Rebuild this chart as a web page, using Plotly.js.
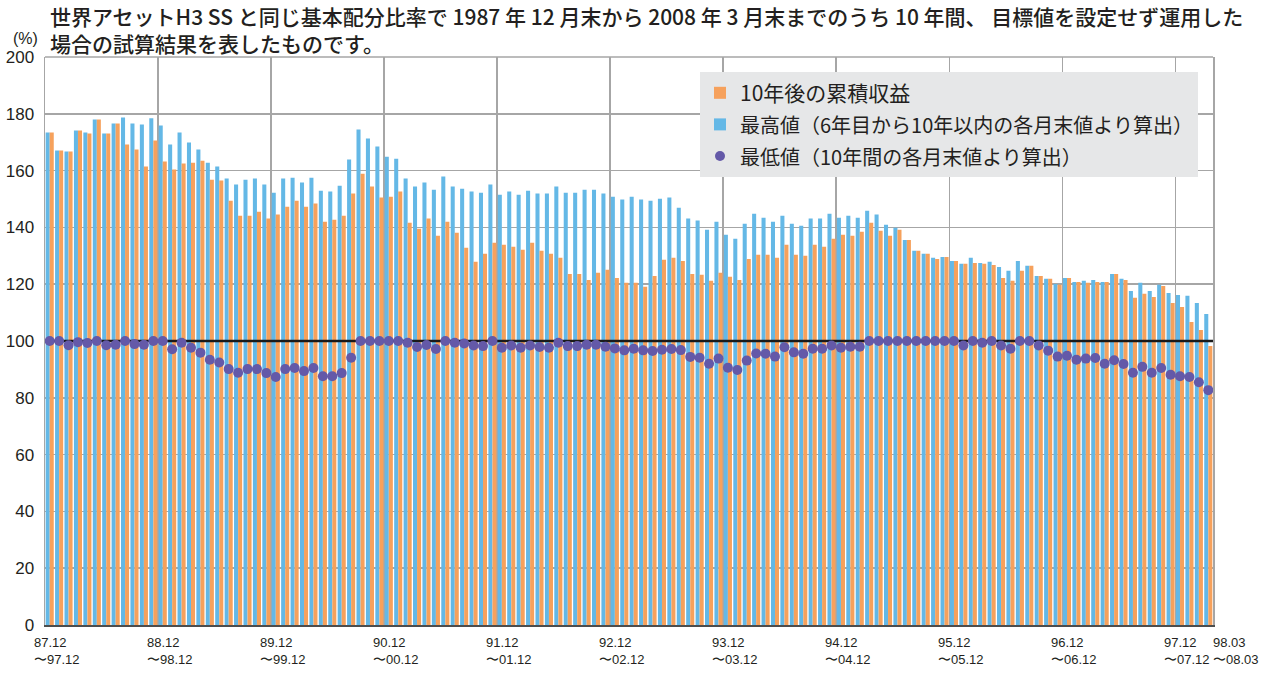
<!DOCTYPE html>
<html>
<head>
<meta charset="utf-8">
<script src="https://cdn.plot.ly/plotly-3.0.1.min.js"></script>
<style>
html,body{margin:0;padding:0;background:#fff;}
#chart{width:1280px;height:675px;}
</style>
</head>
<body>
<div id="chart"></div>
<script>
// 最高値（6年目から10年以内の各月末値より算出）
const maxValues = [
173.4,167.1,166.7,174.1,173.4,178.0,173.1,176.6,178.7,176.6,176.2,178.4,
175.9,169.2,173.4,169.9,167.4,162.8,161.4,157.2,155.1,156.8,157.2,155.1,
152.2,157.2,157.5,155.8,157.5,152.9,152.6,154.7,163.9,174.5,171.3,168.5,
164.9,164.2,157.2,154.4,155.8,153.3,157.9,154.4,153.6,152.6,152.2,155.1,
151.5,152.6,151.5,152.9,151.9,151.9,154.4,152.2,152.2,153.3,153.3,151.9,
150.8,149.8,150.8,149.8,149.4,150.1,150.5,146.9,143.1,142.4,139.2,142.0,
137.4,136.0,141.3,144.8,143.4,142.0,144.1,141.3,140.6,143.1,143.1,144.8,
143.4,144.1,143.4,145.9,144.5,140.9,139.9,135.6,131.8,130.7,129.3,129.6,
128.2,127.2,129.3,127.5,127.9,126.1,124.7,128.2,126.5,122.9,121.9,120.1,
122.2,120.8,121.2,121.5,120.8,123.6,121.9,117.6,120.5,117.6,119.8,116.9,
116.2,115.9,113.4,109.5
];
// 10年後の累積収益
const finalValues = [
173.4,167.1,166.7,174.1,173.1,178.0,173.1,176.6,169.2,167.4,161.4,170.6,
163.2,160.4,162.5,162.8,163.5,156.8,156.5,149.4,144.1,144.1,145.5,143.1,
144.5,147.3,149.4,147.3,148.4,142.0,142.7,144.1,151.9,158.9,154.4,150.5,
150.8,152.6,141.6,139.5,143.1,137.1,142.0,138.1,132.8,127.9,130.7,134.6,
133.9,133.2,132.1,134.6,131.8,130.7,129.3,123.6,123.6,121.5,124.0,125.1,
122.2,120.5,120.5,119.1,122.9,128.6,129.3,128.2,123.6,123.3,121.2,124.0,
122.6,121.5,128.9,130.4,130.4,129.3,133.9,130.4,130.0,133.9,133.2,136.0,
137.4,137.1,138.5,141.6,138.8,137.1,139.2,135.6,131.8,130.7,128.9,129.6,
128.2,127.2,127.5,127.2,126.8,122.2,121.2,124.7,126.5,122.9,121.9,119.8,
122.2,120.8,120.5,120.8,120.8,123.6,121.5,115.2,116.6,115.5,119.4,113.4,
112.0,106.7,103.9,98.2
];
// 最低値（10年間の各月末値より算出）
const minValues = [
100.0,100.0,98.5,99.6,99.3,100.0,98.5,98.7,100.0,98.9,98.7,100.0,
100.0,97.1,99.4,97.6,95.9,93.4,92.4,90.1,88.8,90.1,90.1,88.7,
87.3,90.1,90.5,89.4,90.5,87.6,87.6,88.7,94.1,100.0,100.0,100.0,
100.0,100.0,99.4,97.9,98.6,97.2,100.0,99.4,99.1,98.4,98.2,100.0,
97.6,98.4,97.6,98.4,97.9,97.6,99.4,98.2,98.2,98.7,98.7,98.0,
97.4,96.7,97.3,96.7,96.5,96.9,97.2,96.8,94.4,94.1,92.0,93.8,
90.6,89.8,93.1,95.6,95.5,94.5,97.8,96.0,95.5,97.3,97.3,98.4,
97.6,98.0,98.0,100.0,100.0,100.0,100.0,100.0,100.0,100.0,100.0,100.0,
100.0,98.4,100.0,99.4,100.0,98.4,97.3,100.0,100.0,98.4,96.6,94.5,
94.8,93.4,93.8,94.0,92.0,93.2,91.9,88.8,90.9,88.8,90.5,88.1,
87.6,87.3,85.5,82.7
];
// 開始月のインデックスと目盛りラベル
const tickIndex = [0, 12, 24, 36, 48, 60, 72, 84, 96, 108, 120, 123];
const tickLabels = [
"87.12<br>〜97.12","88.12<br>〜98.12","89.12<br>〜99.12","90.12<br>〜00.12",
"91.12<br>〜01.12","92.12<br>〜02.12","93.12<br>〜03.12","94.12<br>〜04.12",
"95.12<br>〜05.12","96.12<br>〜06.12","97.12<br>〜07.12","98.03<br>〜08.03"
];
const baseLevel = 100;
const seriesNames = [
"10年後の累積収益",
"最高値（6年目から10年以内の各月末値より算出）",
"最低値（10年間の各月末値より算出）"
];
const titleText = "世界アセットH3 SS と同じ基本配分比率で 1987 年 12 月末から 2008 年 3 月末までのうち 10 年間、 目標値を設定せず運用した<br>場合の試算結果を表したものです。";
const unitLabel = "(%)";

const idx = maxValues.map((_, i) => i);
const n = idx.length;
const cjk = '"Noto Sans CJK JP", "Noto Sans", sans-serif';
const num = '"Liberation Sans", Arial, sans-serif';

const span = (s, px) => '<span style="font-size:' + px + 'px">' + s + '</span>';

const traces = [
  { type: 'bar', x: idx, y: maxValues, name: span(seriesNames[1], 20),
    marker: { color: '#64B8E6' }, legendrank: 2, hoverinfo: 'y' },
  { type: 'bar', x: idx, y: finalValues, name: span(seriesNames[0], 21),
    marker: { color: '#F6A15C' }, legendrank: 1, hoverinfo: 'y' },
  { type: 'scatter', mode: 'lines', x: [-0.5, n - 0.5], y: [baseLevel, baseLevel],
    line: { color: '#1a1a1a', width: 2.5 }, showlegend: false, hoverinfo: 'skip' },
  { type: 'scatter', mode: 'markers', x: idx, y: minValues, name: span(seriesNames[2], 20),
    marker: { color: '#6459A8', size: 10 }, legendrank: 3, cliponaxis: false }
];

const plotL = 45, plotR = 1213, plotT = 57, plotB = 625;
const pw = plotR - plotL, ph = plotB - plotT;

const annotations = tickIndex.map((t, k) => ({
  x: (k === tickIndex.length - 1) ? t + 0.5 : t - 0.5,
  xref: 'x', y: 0, yref: 'paper',
  xanchor: 'left', yanchor: 'top', align: 'left',
  xshift: (k === tickIndex.length - 1) ? -2 : -13, yshift: -8,
  showarrow: false, text: tickLabels[k],
  font: { family: num, size: 13, color: '#231f20' }
}));
annotations.push({
  x: 0, xref: 'paper', xanchor: 'right', xshift: -5,
  y: 1, yref: 'paper', yanchor: 'bottom', yshift: 8,
  showarrow: false, text: unitLabel,
  font: { family: num, size: 16, color: '#231f20' }
});
annotations.push({
  x: (52 - plotL) / pw, xref: 'paper', xanchor: 'left', align: 'left', xshift: -4,
  y: (plotB + 1) / ph, yref: 'paper', yanchor: 'top',
  showarrow: false, text: titleText,
  font: { family: cjk, size: 21, color: '#231f20', weight: 500 }
});

const layout = {
  width: 1280, height: 675,
  margin: { l: plotL, r: 1280 - plotR, t: plotT, b: 675 - plotB },
  paper_bgcolor: '#ffffff', plot_bgcolor: '#ffffff',
  barmode: 'group', bargap: 0.14, bargroupgap: 0,
  xaxis: {
    range: [-0.5, n - 0.5], tickvals: tickIndex.slice(0, 11).map(t => t - 0.5),
    showticklabels: false, ticks: '', showgrid: true, gridcolor: '#a6a6a6', gridwidth: 1.5,
    zeroline: false, showline: true, linecolor: '#4d4d4d', linewidth: 2, layer: 'above traces'
  },
  yaxis: {
    range: [0, 200], dtick: 20, tick0: 0, showgrid: true, gridcolor: '#a6a6a6', gridwidth: 1.5,
    zeroline: false, showline: true, mirror: true, linecolor: '#a6a6a6', linewidth: 1.5,
    ticks: '', ticklabelstandoff: 6,
    tickfont: { family: num, size: 17, color: '#231f20' }
  },
  shapes: [
    { type: 'line', xref: 'paper', yref: 'paper', x0: 0, x1: 1, y0: 1, y1: 1,
      line: { color: '#a6a6a6', width: 1.5 } }
  ],
  legend: {
    x: (700 - plotL) / pw, y: (plotB - 72) / ph, xanchor: 'left', yanchor: 'top',
    bgcolor: '#e6e7e8', borderwidth: 0, traceorder: 'normal',
    font: { family: cjk, size: 22, color: '#231f20' },
    itemwidth: 30
  },
  annotations: annotations,
  showlegend: true
};

Plotly.newPlot('chart', traces, layout, { displayModeBar: false, staticPlot: true });
</script>
</body>
</html>
